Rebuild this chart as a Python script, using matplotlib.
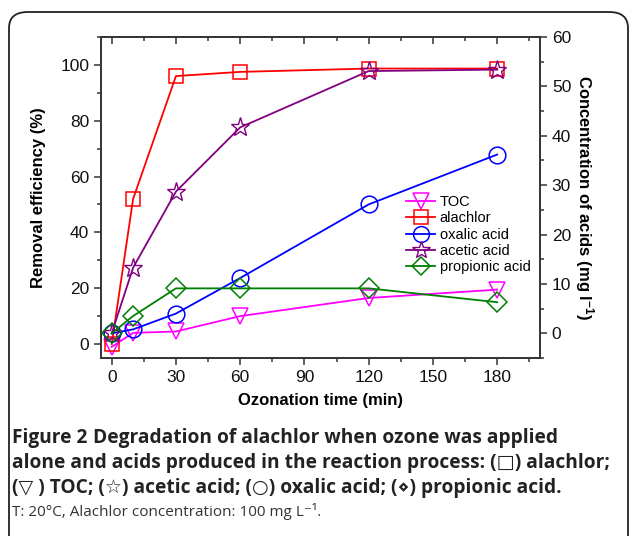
import matplotlib
matplotlib.use('Agg')
import matplotlib.pyplot as plt
from matplotlib.patches import FancyBboxPatch
from matplotlib.ticker import MultipleLocator

plt.rcParams['font.family'] = ['Liberation Sans', 'DejaVu Sans']
plt.rcParams['mathtext.default'] = 'regular'

# ozonation time (min)
time = [0, 10, 30, 60, 120, 180]

# removal efficiency (%), left axis
toc = [-1, 4, 4.5, 10, 16.5, 19.5]
alachlor = [0, 52, 96, 97.5, 98.7, 98.7]

# concentration of acids (mg/l), right axis
oxalic = [0, 0.8, 4.0, 11.2, 26.1, 36.2]
acetic = [0, 13.3, 28.7, 41.7, 53.1, 53.4]
propionic = [0, 3.5, 9.1, 9.1, 9.1, 6.3]

fig = plt.figure(figsize=(6.29, 5.36), dpi=100)

# rounded frame around the figure
frame = FancyBboxPatch((9 / 629, -0.2), 619 / 629, 1.2 - 12 / 536,
                       boxstyle='round,pad=0,rounding_size=0.03',
                       transform=fig.transFigure, fill=False,
                       edgecolor='#222222', linewidth=1.3)
fig.patches.append(frame)

ax = fig.add_axes([101 / 629, 1 - 358 / 536, 439 / 629, 321 / 536])
ax2 = ax.twinx()

ms = 12
l1, = ax.plot(time, toc, color='#ff00ff', marker='v', ms=ms, mfc='none', mew=1.1, lw=1.3, label='TOC')
l2, = ax.plot(time, alachlor, color='#ff0000', marker='s', ms=10.5, mfc='none', mew=1.1, lw=1.3, label='alachlor')
l3, = ax2.plot(time, oxalic, color='#0000ff', marker='o', ms=ms, mfc='none', mew=1.1, lw=1.3, label='oxalic acid')
l4, = ax2.plot(time, acetic, color='#800080', marker='*', ms=14, mfc='none', mew=1.0, lw=1.3, label='acetic acid')
l5, = ax2.plot(time, propionic, color='#008000', marker='D', ms=10, mfc='none', mew=1.1, lw=1.3, label='propionic acid')

ax.set_xlim(-5, 200)
ax.set_ylim(-5, 110)
ax2.set_ylim(-5, 60)

ax.set_xticks([0, 30, 60, 90, 120, 150, 180])
ax.xaxis.set_minor_locator(MultipleLocator(15))
ax.yaxis.set_major_locator(MultipleLocator(20))
ax.yaxis.set_minor_locator(MultipleLocator(10))
ax2.yaxis.set_major_locator(MultipleLocator(10))
ax2.yaxis.set_minor_locator(MultipleLocator(5))

sc = '#333333'
for a in (ax, ax2):
    for s in a.spines.values():
        s.set_color(sc)
        s.set_linewidth(1.2)
ax.tick_params(axis='both', which='major', direction='out', length=5, width=1.1,
               color=sc, labelsize=12.5, labelcolor='#111111')
ax.tick_params(axis='both', which='minor', direction='out', length=3, width=1.1, color=sc)
ax2.tick_params(axis='y', which='major', direction='out', length=5, width=1.1,
                color=sc, labelsize=12.5, labelcolor='#111111')
ax2.tick_params(axis='y', which='minor', direction='out', length=3, width=1.1, color=sc)
# top ticks point inward
secx = ax.secondary_xaxis('top')
secx.set_xticks([0, 30, 60, 90, 120, 150, 180])
secx.xaxis.set_minor_locator(MultipleLocator(15))
secx.tick_params(which='major', direction='in', length=5, width=1.1, color=sc, labeltop=False)
secx.tick_params(which='minor', direction='in', length=3, width=1.1, color=sc)
secx.spines['top'].set_visible(False)

ax.set_xlabel('Ozonation time (min)', fontsize=12, fontweight='bold', labelpad=6)
ax.set_ylabel('Removal efficiency (%)', fontsize=12, fontweight='bold', labelpad=10)
ax2.set_ylabel('Concentration of acids (mg l$^{-1}$)', fontsize=12, fontweight='bold',
               rotation=-90, labelpad=18)

ax2.legend(handles=[l1, l2, l3, l4, l5], loc='upper left', bbox_to_anchor=(399 / 629, 1 - 188 / 536),
           bbox_transform=fig.transFigure, frameon=False, fontsize=10.5, handlelength=2.0,
           handletextpad=0.3, labelspacing=0.15, markerscale=0.95, borderpad=0)

cap_font = ['Open Sans', 'DejaVu Sans']
cap_col = '#222222'
cap_size = 13.8
t0 = fig.text(12 / 629, 1 - 438 / 536, 'Figure 2', family=cap_font, fontsize=cap_size, fontweight='bold',
              va='center', color=cap_col)
ax.annotate('Degradation of alachlor when ozone was applied', xy=(1, 0.5), xycoords=t0,
            xytext=(4, 0), textcoords='offset points', family=cap_font, fontsize=cap_size,
            fontweight='bold', va='center', color=cap_col, annotation_clip=False)
fig.text(12 / 629, 1 - 463 / 536, 'alone and acids produced in the reaction process: (\u25a1) alachlor;',
         family=cap_font, fontsize=cap_size, fontweight='bold', va='center', color=cap_col)
fig.text(12 / 629, 1 - 488 / 536, '(\u25bd ) TOC; (\u2606) acetic acid; (\u25cb) oxalic acid; (\u22c4) propionic acid.',
         family=cap_font, fontsize=cap_size, fontweight='bold', va='center', color=cap_col)
fig.text(12 / 629, 1 - 511 / 536, 'T: 20\u00b0C, Alachlor concentration: 100 mg L\u207b\u00b9.',
         family=cap_font, fontsize=11, fontweight='normal', va='center', color='#333333')

fig.savefig('out.png', dpi=100)
